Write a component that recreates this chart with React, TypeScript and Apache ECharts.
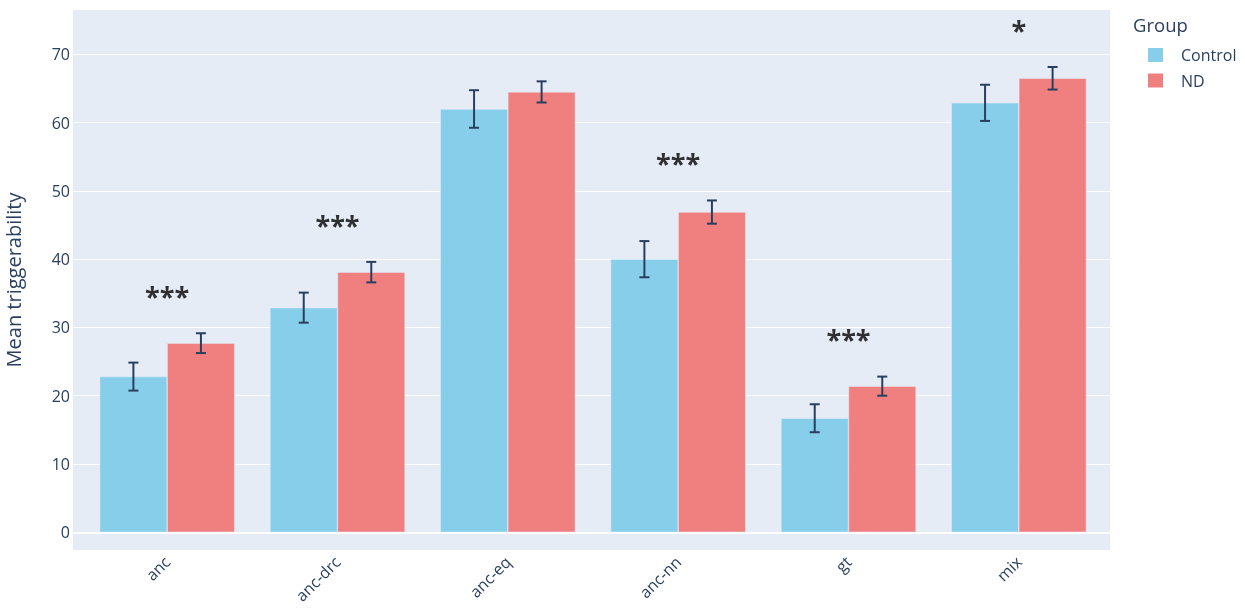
import React, { useEffect, useRef } from "react";
import * as echarts from "echarts";

const categories = ["anc", "anc-drc", "anc-eq", "anc-nn", "gt", "mix"];
const controlMeans = [22.8, 32.9, 62.0, 40.0, 16.7, 62.9];
const controlErr = [2.05, 2.2, 2.75, 2.65, 2.05, 2.65];
const ndMeans = [27.7, 38.1, 64.5, 46.9, 21.4, 66.5];
const ndErr = [1.45, 1.5, 1.55, 1.7, 1.4, 1.65];
const sigLabels = ["***", "***", "", "***", "***", "*"];
const sigY = [35.0, 45.4, null, 54.4, 28.7, 74.0];
const yTicks = [0, 10, 20, 30, 40, 50, 60, 70];

const TEXT = "#2a3f5f";
const FONT = '"Open Sans", verdana, arial, sans-serif';
const CAT_GAP = 0.207;

export default function App() {
  const ref = useRef<HTMLDivElement>(null);
  useEffect(() => {
    if (!ref.current) return;
    const chart = echarts.init(ref.current, null, { renderer: "svg" });
    const yMin = -2.6;
    const yMax = 76.5;

    const errRender = (side: number) => (params: any, api: any) => {
      const i = api.value(0);
      const v = api.value(1);
      const e = api.value(2);
      const band = api.size([1, 0])[0];
      const barW = (band * (1 - CAT_GAP)) / 2;
      const c = api.coord([i, v]);
      const x = c[0] + (side * barW) / 2;
      const top = api.coord([i, v + e])[1];
      const bot = api.coord([i, v - e])[1];
      const hw = 5;
      const style = { stroke: TEXT, lineWidth: 2, fill: null };
      return {
        type: "group",
        children: [
          { type: "line", shape: { x1: x, y1: top, x2: x, y2: bot }, style },
          { type: "line", shape: { x1: x - hw, y1: top, x2: x + hw, y2: top }, style },
          { type: "line", shape: { x1: x - hw, y1: bot, x2: x + hw, y2: bot }, style },
        ],
      };
    };

    chart.setOption({
      animation: false,
      textStyle: { fontFamily: FONT },
      grid: [
        {
          left: 73, right: 135, top: 10, bottom: 63, outerBoundsMode: "none",
          containLabel: false,
          show: true, backgroundColor: "#E5ECF6", borderWidth: 0,
        },
        {
          left: 82, right: 141, top: 10, bottom: 63, outerBoundsMode: "none",
          containLabel: false, show: false,
        },
      ],
      xAxis: [
        {
          gridIndex: 0, type: "value", min: 0, max: 1,
          axisLine: { show: true, onZero: true, lineStyle: { color: "#ffffff", width: 2 } },
          axisTick: { show: false }, axisLabel: { show: false }, splitLine: { show: false },
        },
        {
          gridIndex: 1, type: "category", data: categories,
          axisLine: { show: false }, axisTick: { show: false },
          axisLabel: {
            rotate: 45, margin: 9, color: TEXT, fontSize: 16, fontFamily: FONT,
            interval: 0,
          },
        },
      ],
      yAxis: [
        {
          gridIndex: 0, type: "value", min: yMin, max: yMax, splitNumber: 8,
          name: "Mean triggerability", nameLocation: "middle", nameGap: 50,
          nameTextStyle: { color: TEXT, fontSize: 20, fontFamily: FONT },
          axisLine: { show: false }, axisTick: { show: false },
          axisLabel: {
            color: TEXT, fontSize: 16, margin: 3, fontFamily: FONT,
            showMinLabel: false, showMaxLabel: false,
            formatter: (v: number) => (yTicks.indexOf(Math.round(v * 1000) / 1000) >= 0 ? String(v) : ""),
          },
          splitLine: {
            show: true, showMinLine: false, showMaxLine: false,
            lineStyle: { color: "#ffffff", width: 1 },
          },
        },
        {
          gridIndex: 1, type: "value", min: yMin, max: yMax, show: false,
          splitLine: { show: false },
        },
      ],
      legend: {
        orient: "vertical", left: 1148, top: 47, itemWidth: 15, itemHeight: 14,
        itemGap: 9.5, icon: "rect", padding: 0,
        data: ["Control", "ND"],
        itemStyle: { borderWidth: 0 },
        textStyle: {
          color: TEXT, fontSize: 16, lineHeight: 14, fontFamily: FONT,
          padding: [0, 0, 0, 13],
        },
      },
      graphic: [
        {
          type: "text", left: 1133, top: 15,
          style: { text: "Group", fill: TEXT, fontSize: 18.5, fontFamily: FONT },
        },
      ],
      series: [
        {
          name: "Control", type: "bar", xAxisIndex: 1, yAxisIndex: 1,
          data: controlMeans, barCategoryGap: CAT_GAP * 100 + "%", barGap: "0%",
          itemStyle: { color: "#87CEEB", borderColor: "#E5ECF6", borderWidth: 0.5 },
        },
        {
          name: "ND", type: "bar", xAxisIndex: 1, yAxisIndex: 1,
          data: ndMeans, barCategoryGap: CAT_GAP * 100 + "%", barGap: "0%",
          itemStyle: { color: "#F08080", borderColor: "#E5ECF6", borderWidth: 0.5 },
        },
        {
          type: "custom", xAxisIndex: 1, yAxisIndex: 1, silent: true, z: 5,
          renderItem: errRender(-1),
          encode: { x: 0, y: 1 },
          data: controlMeans.map((v, i) => [i, v, controlErr[i]]),
        },
        {
          type: "custom", xAxisIndex: 1, yAxisIndex: 1, silent: true, z: 5,
          renderItem: errRender(1),
          encode: { x: 0, y: 1 },
          data: ndMeans.map((v, i) => [i, v, ndErr[i]]),
        },
        {
          type: "scatter", xAxisIndex: 1, yAxisIndex: 1, symbolSize: 0, silent: true, z: 6,
          data: sigY
            .map((y, i) => (y === null ? null : { value: [i, y], name: sigLabels[i] }))
            .filter((d) => d !== null),
          label: {
            show: true, position: "inside", offset: [0, 2],
            formatter: (p: any) => p.name,
            color: "#000000", fontSize: 27, fontWeight: "bold", fontFamily: FONT,
          },
        },
      ],
    });
    return () => chart.dispose();
  }, []);
  return (
    <div
      ref={ref}
      style={{ position: "fixed", left: 0, top: 0, width: 1245, height: 613 }}
    />
  );
}
